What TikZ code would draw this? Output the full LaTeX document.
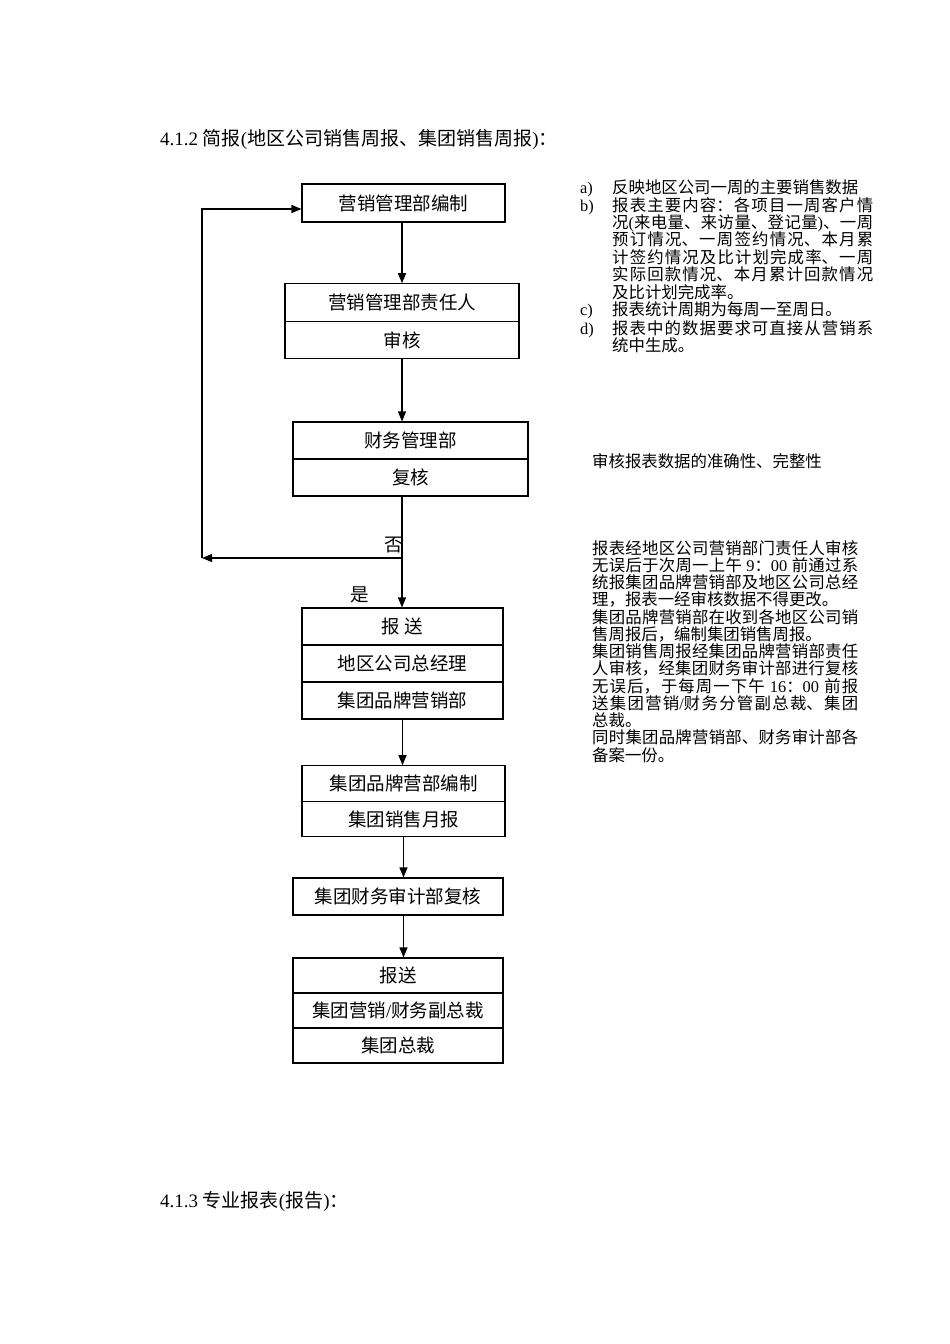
\documentclass[tikz,border=0pt]{standalone}
\usepackage{fontspec}
\setmainfont{Noto Sans CJK SC}
\newfontfamily\latfont{Liberation Serif}
\newcommand\LT[1]{{\latfont #1}}
\usetikzlibrary{arrows.meta}
\XeTeXlinebreaklocale "zh"
\XeTeXlinebreakskip=0pt plus 2pt
\begin{document}
\begin{tikzpicture}[x=1pt,y=-1pt,
  row/.style={draw, line width=1.1pt, inner sep=0pt, font=\fontsize{18.5}{20}\selectfont, anchor=center},
  ln/.style={line width=1.1pt},
  arr/.style={line width=1.1pt, -{Triangle[length=10pt,width=8pt]}},
  side/.style={font=\fontsize{16.4}{17.4}\selectfont, inner sep=0pt, anchor=base west},
  big/.style={font=\fontsize{18.5}{20}\selectfont, inner sep=0pt},
  head/.style={font=\fontsize{19}{21}\selectfont, inner sep=0pt, anchor=base west}]
\useasboundingbox (0,0) rectangle (950,1344);
\fill[white] (0,0) rectangle (950,1344);

% titles
\node[head] (t1) at (160,145) {\LT{4.1.2 }简报\LT{(}地区公司销售周报、集团销售周报\LT{)}：};
\node[head] (t2) at (160,1207) {\LT{4.1.3 }专业报表\LT{(}报告\LT{)}：};

% boxes
\node[row, minimum width=203pt, minimum height=38pt] (b1) at (403.5,203) {营销管理部编制};
\node[row, minimum width=234pt, minimum height=37.5pt] (b2a) at (402,302.5) {营销管理部责任人};
\node[row, minimum width=234pt, minimum height=37.5pt] (b2b) at (402,340) {审核};
\node[row, minimum width=235pt, minimum height=37pt] (b3a) at (410.5,440.5) {财务管理部};
\node[row, minimum width=235pt, minimum height=37pt] (b3b) at (410.5,477.5) {复核};
\node[row, minimum width=201pt, minimum height=37pt] (b4a) at (402.5,626.5) {报 送};
\node[row, minimum width=201pt, minimum height=37pt] (b4b) at (402.5,663.5) {地区公司总经理};
\node[row, minimum width=201pt, minimum height=37pt] (b4c) at (402.5,700.5) {集团品牌营销部};
\node[row, minimum width=203pt, minimum height=35.5pt] (b5a) at (403.5,783.5) {集团品牌营部编制};
\node[row, minimum width=203pt, minimum height=35.5pt] (b5b) at (403.5,819) {集团销售月报};
\node[row, minimum width=210pt, minimum height=37pt] (b6) at (398,896.5) {集团财务审计部复核};
\node[row, minimum width=210pt, minimum height=35pt] (b7a) at (398,975.5) {报送};
\node[row, minimum width=210pt, minimum height=35pt] (b7b) at (398,1010.5) {集团营销\LT{/}财务副总裁};
\node[row, minimum width=210pt, minimum height=35pt] (b7c) at (398,1045.5) {集团总裁};

% labels
\node[big] (no) at (394,545) {否};
\node[big] (yes) at (360,595) {是};

% connectors
\coordinate (j) at (402,558);
\coordinate (k) at (202,558);
\coordinate (m) at (202,209);
\draw[arr] (b2a.north |- b1.south) -- (b2a.north);
\draw[arr] (b2b.south) -- (b2b.south |- b3a.north);
\draw[ln] (j |- b3b.south) -- (j);
\draw[arr] (j) -- (j |- b4a.north);
\draw[arr] (j) -- (k);
\draw[arr] (k) -- (m) -- (b1.west |- m);
\draw[arr] (b4c.south) -- (b4c.south |- b5a.north);
\draw[arr] (b5b.south) -- (b5b.south |- b6.north);
\draw[arr] (b5b.south |- b6.south) -- (b5b.south |- b7a.north);

% right notes
\node[side] (la) at (580,193) {\LT{a)}};
\node[side, text width=261pt, align=justify] (ta) at (612,193) {反映地区公司一周的主要销售数据};
\node[side] (lb) at (580,211) {\LT{b)}};
\node[side, text width=261pt, align=justify] (tb) at (612,211) {报表主要内容：各项目一周客户情\linebreak
况\LT{(}来电量、来访量、登记量\LT{)}、一周\linebreak
预订情况、一周签约情况、本月累\linebreak
计签约情况及比计划完成率、一周\linebreak
实际回款情况、本月累计回款情况\linebreak
及比计划完成率。};
\node[side] (lc) at (580,315) {\LT{c)}};
\node[side, text width=261pt, align=justify] (tc) at (612,315) {报表统计周期为每周一至周日。};
\node[side] (ld) at (580,334) {\LT{d)}};
\node[side, text width=261pt, align=justify] (td) at (612,334) {报表中的数据要求可直接从营销系\linebreak
统中生成。};

\node[side] (tm) at (592,467) {审核报表数据的准确性、完整性};

\node[side, text width=266pt, align=justify, font=\fontsize{16.4}{17.25}\selectfont] (tr) at (592,554) {报表经地区公司营销部门责任人审核\linebreak
无误后于次周一上午\LT{ 9}：\LT{00 }前通过系\linebreak
统报集团品牌营销部及地区公司总经\linebreak
理，报表一经审核数据不得更改。\\
集团品牌营销部在收到各地区公司销\linebreak
售周报后，编制集团销售周报。\\
集团销售周报经集团品牌营销部责任\linebreak
人审核，经集团财务审计部进行复核\linebreak
无误后，于每周一下午\LT{ 16}：\LT{00 }前报\linebreak
送集团营销\LT{/}财务分管副总裁、集团\linebreak
总裁。\\
同时集团品牌营销部、财务审计部各\linebreak
备案一份。};
\end{tikzpicture}
\end{document}
